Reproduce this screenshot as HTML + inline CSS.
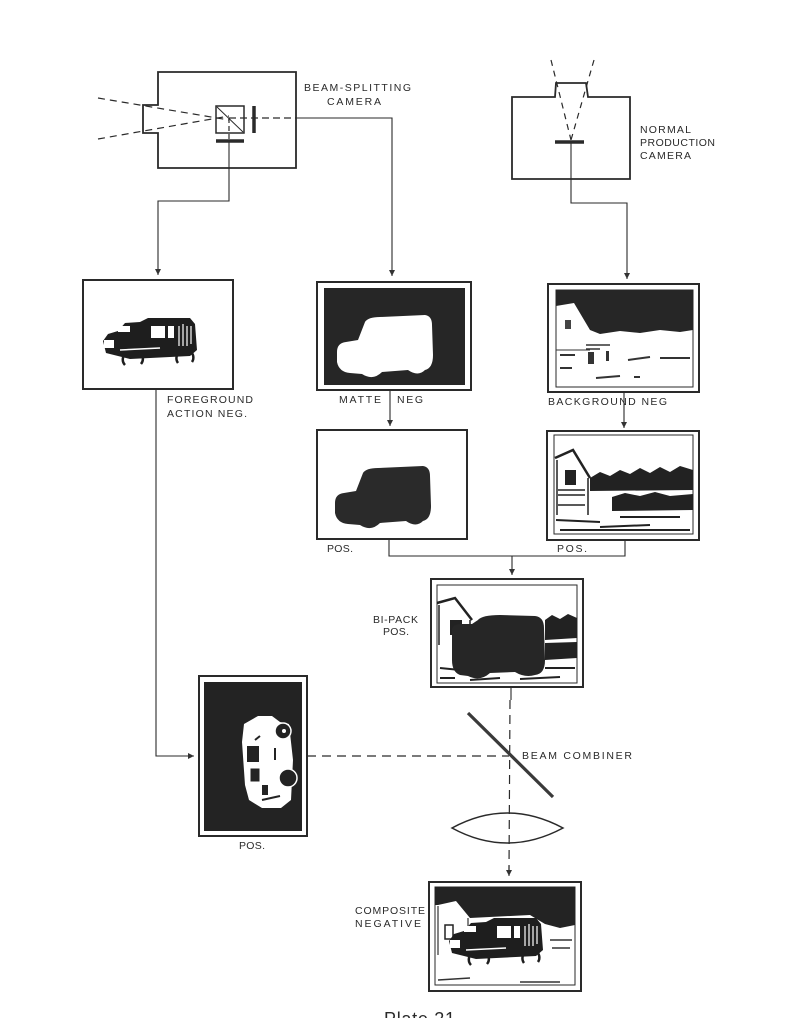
<!DOCTYPE html>
<html>
<head>
<meta charset="utf-8">
<style>
html,body{margin:0;padding:0;background:#fff;}
svg{display:block;}
text{font-family:"Liberation Sans",sans-serif;fill:#2a2a2a;}
</style>
</head>
<body>
<svg width="795" height="1018" viewBox="0 0 795 1018" xmlns="http://www.w3.org/2000/svg">
<defs>
  <marker id="ah" viewBox="0 0 10 10" refX="10" refY="5" markerWidth="6" markerHeight="7" orient="auto" markerUnits="userSpaceOnUse">
    <path d="M0,0 L10,5 L0,10 Z" fill="#333"/>
  </marker>
  <g id="jeep">
    <path d="M103,341 L108,334 L118,331 L125,323 L140,322 L148,318 L190,318 L195,324 L197,350 L190,356 L130,359 L118,356 L106,353 Z" fill="#1e1e1e"/>
    <rect x="151" y="326" width="14" height="12" fill="#fff"/>
    <rect x="168" y="326" width="6" height="12" fill="#fff"/>
    <rect x="118" y="326" width="12" height="6" fill="#fff"/>
    <rect x="104" y="340" width="10" height="8" fill="#fff"/>
    <path d="M179,326 L179,346 M183,324 L183,346 M187,326 L187,346 M191,326 L191,344" stroke="#fff" stroke-width="1.2"/>
    <path d="M120,350 L160,348" stroke="#fff" stroke-width="1.5"/>
    <path d="M125,365 A8,8 0 0 1 128,352 M139,352 A8,8 0 0 1 141,364" stroke="#1e1e1e" stroke-width="2.5" fill="none"/>
    <path d="M178,363 A8,8 0 0 1 181,351 M190,351 A8,8 0 0 1 192,362" stroke="#1e1e1e" stroke-width="2.5" fill="none"/>
  </g>
</defs>

<g stroke="#2a2a2a" fill="none">
  <!-- Beam-splitting camera -->
  <path d="M158,105 L158,72 L296,72 L296,168 L158,168 L158,133 L143,133 L143,105 Z" stroke-width="1.8"/>
  <rect x="216" y="106" width="28" height="27" stroke-width="1.5"/>
  <path d="M217,107 L243,132" stroke-width="1"/>
  <path d="M98,98 L229,120 M98,139 L229,116" stroke-width="1.2" stroke-dasharray="7,5"/>
  <path d="M229,118 L296,118" stroke-width="1.2" stroke-dasharray="7,4"/>
  <path d="M229,118 L229,141" stroke-width="1.2" stroke-dasharray="5,3"/>
  <line x1="254" y1="106" x2="254" y2="133" stroke-width="3.5"/>
  <line x1="216" y1="141" x2="244" y2="141" stroke-width="3.5"/>
  <path d="M296,118 L392,118 L392,276" stroke-width="1.1" marker-end="url(#ah)"/>
  <path d="M229,141 L229,201 L158,201 L158,275" stroke-width="1.1" marker-end="url(#ah)"/>

  <!-- Normal camera -->
  <path d="M512,97 L555,97 L556,83 L586,83 L588,97 L630,97 L630,179 L512,179 Z" stroke-width="1.8"/>
  <path d="M551,60 L571,140 M594,60 L571,140" stroke-width="1.2" stroke-dasharray="6,5"/>
  <line x1="555" y1="142" x2="584" y2="142" stroke-width="3.5"/>
  <path d="M571,142 L571,203 L627,203 L627,279" stroke-width="1.1" marker-end="url(#ah)"/>

  <!-- Foreground neg down to fg pos -->
  <path d="M156,389 L156,756 L194,756" stroke-width="1.1" marker-end="url(#ah)"/>
  <!-- matte neg -> matte pos -->
  <path d="M390,390 L390,426" stroke-width="1.1" marker-end="url(#ah)"/>
  <!-- bg neg -> bg pos -->
  <path d="M624,392 L624,428" stroke-width="1.1" marker-end="url(#ah)"/>
  <!-- merge -->
  <path d="M389,539 L389,556 L625,556 L625,540" stroke-width="1.1"/>
  <path d="M512,556 L512,575" stroke-width="1.1" marker-end="url(#ah)"/>
  <!-- bipack down -->
  <path d="M511,687 L511,700" stroke-width="1.1"/>
  <path d="M510,700 L509,870" stroke-width="1.2" stroke-dasharray="9,6"/>
  <path d="M509,866 L509,876" stroke-width="1.1" marker-end="url(#ah)"/>
  <!-- horizontal dashed from fg pos -->
  <path d="M307,756 L509,756" stroke-width="1.2" stroke-dasharray="9,6"/>
  <!-- beam combiner -->
  <line x1="468" y1="713" x2="553" y2="797" stroke-width="3.2" stroke="#3a3a3a"/>
  <!-- lens -->
  <path d="M452,828 Q507,798 563,828 Q507,858 452,828 Z" stroke-width="1.5"/>
</g>

<!-- Foreground action neg -->
<rect x="83" y="280" width="150" height="109" fill="#fff" stroke="#2a2a2a" stroke-width="2"/>
<use href="#jeep"/>

<!-- Matte neg -->
<rect x="317" y="282" width="154" height="108" fill="#fff" stroke="#2a2a2a" stroke-width="2"/>
<rect x="324" y="288" width="141" height="97" fill="#262626"/>
<path id="carsil" d="M337,352 Q337,343 346,342 L358,340 L365,322 Q368,317 380,317 L425,315 Q432,316 432,325 L433,355 Q433,368 425,370 Q418,377 408,370 L382,372 Q373,381 362,374 L350,373 Q339,372 337,362 Z" fill="#fff"/>

<!-- Matte pos -->
<rect x="317" y="430" width="150" height="109" fill="#fff" stroke="#2a2a2a" stroke-width="2"/>
<path d="M337,352 Q337,343 346,342 L358,340 L365,322 Q368,317 380,317 L425,315 Q432,316 432,325 L433,355 Q433,368 425,370 Q418,377 408,370 L382,372 Q373,381 362,374 L350,373 Q339,372 337,362 Z" fill="#2a2a2a" transform="translate(-2,151)"/>

<!-- Background neg -->
<rect x="548" y="284" width="151" height="108" fill="#fff" stroke="#2a2a2a" stroke-width="2"/>
<rect x="556" y="290" width="137" height="97" fill="#fff" stroke="#2a2a2a" stroke-width="1"/>
<path d="M556,290 L693,290 L693,330 L680,332 L660,330 L640,333 L620,331 L600,334 L590,330 L574,303 L556,306 Z" fill="#262626"/>
<rect x="565" y="320" width="6" height="9" fill="#444"/>
<path d="M586,345 L610,345 M586,349 L600,349" stroke="#333" stroke-width="1.5"/>
<rect x="588" y="352" width="6" height="12" fill="#333"/>
<rect x="606" y="351" width="3" height="10" fill="#333"/>
<path d="M628,360 L650,357 M596,378 L620,376 M634,377 L640,377 M560,355 L575,355 M560,368 L572,368 M660,358 L690,358" stroke="#333" stroke-width="2"/>
<path d="M556,350 L590,350" stroke="#333" stroke-width="1"/>

<!-- Background pos -->
<rect x="547" y="431" width="152" height="109" fill="#fff" stroke="#2a2a2a" stroke-width="2"/>
<rect x="554" y="435" width="139" height="99" fill="#fff" stroke="#2a2a2a" stroke-width="1"/>
<path d="M555,458 L573,450 L590,478" stroke="#222" stroke-width="2.5" fill="none"/>
<path d="M557,460 L557,515 M588,478 L588,515" stroke="#222" stroke-width="1.5"/>
<rect x="565" y="470" width="11" height="15" fill="#222"/>
<path d="M558,490 L585,490 M558,495 L585,495 M558,505 L585,505" stroke="#222" stroke-width="1.5"/>
<path d="M590,478 L600,472 L610,476 L620,470 L630,474 L640,468 L650,473 L660,467 L670,472 L680,466 L693,470 L693,490 L590,491 Z" fill="#222"/>
<path d="M612,497 L625,493 L640,496 L655,492 L670,496 L693,494 L693,510 L612,511 Z" fill="#222"/>
<path d="M556,520 L600,522 M600,527 L650,525 M560,530 L690,530 M620,517 L680,517" stroke="#222" stroke-width="2"/>

<!-- Bi-pack pos -->
<rect x="431" y="579" width="152" height="108" fill="#fff" stroke="#2a2a2a" stroke-width="2"/>
<rect x="437" y="585" width="140" height="98" fill="#fff" stroke="#2a2a2a" stroke-width="1"/>
<path d="M437,603 L455,598 L472,620" stroke="#222" stroke-width="2.5" fill="none"/>
<path d="M439,605 L439,645 M470,620 L470,640" stroke="#222" stroke-width="1.5"/>
<rect x="450" y="620" width="12" height="15" fill="#222"/>
<path d="M545,620 L552,615 L560,619 L568,614 L577,618 L577,638 L545,640 Z" fill="#222"/>
<path d="M545,643 L577,642 L577,658 L545,660 Z" fill="#222"/>
<path d="M452,630 Q452,624 462,624 L472,624 L478,620 Q482,615 500,615 L535,616 Q544,617 544,628 L545,660 Q545,674 535,675 Q525,678 515,672 L490,673 Q480,682 468,676 L460,675 Q452,672 452,660 Z" fill="#262626"/>
<path d="M440,668 L460,670 M470,680 L500,678 M520,679 L560,677 M440,678 L455,678 M545,668 L575,668" stroke="#222" stroke-width="2"/>

<!-- Foreground pos -->
<rect x="199" y="676" width="108" height="160" fill="#fff" stroke="#2a2a2a" stroke-width="2"/>
<rect x="204" y="682" width="98" height="149" fill="#232323"/>
<path d="M244,724 L258,716 L272,716 L280,722 L289,724 L293,760 L291,800 L281,808 L262,808 L249,800 L245,785 L242,742 Z" fill="#fff"/>
<circle cx="283" cy="731" r="8" fill="#232323" stroke="#fff" stroke-width="1.5"/>
<circle cx="284" cy="731" r="2" fill="#fff"/>
<circle cx="288" cy="778" r="9" fill="#232323" stroke="#fff" stroke-width="1.5"/>
<rect x="247" y="746" width="12" height="16" fill="#232323"/>
<rect x="250" y="768" width="10" height="14" fill="#232323" stroke="#fff" stroke-width="1"/>
<rect x="262" y="785" width="6" height="10" fill="#232323"/>
<path d="M255,740 L260,736 M275,748 L275,760 M262,800 L280,796" stroke="#232323" stroke-width="2"/>

<!-- Composite negative -->
<rect x="429" y="882" width="152" height="109" fill="#fff" stroke="#2a2a2a" stroke-width="2"/>
<rect x="435" y="887" width="140" height="98" fill="#fff" stroke="#2a2a2a" stroke-width="1"/>
<path d="M435,887 L575,887 L575,925 L560,928 L545,924 L530,915 L470,918 L456,901 L438,905 L435,905 Z" fill="#232323"/>
<path d="M438,906 L438,955 M468,918 L468,950" stroke="#333" stroke-width="1.2"/>
<rect x="445" y="925" width="8" height="14" fill="#fff" stroke="#222" stroke-width="1.5"/>
<use href="#jeep" transform="translate(346,600)"/>
<path d="M550,940 L572,940 M552,948 L570,948 M438,980 L470,978 M520,982 L560,982" stroke="#333" stroke-width="1.5"/>

<!-- Labels -->
<g font-size="10.5">
  <text x="304" y="91" textLength="107" lengthAdjust="spacing">BEAM-SPLITTING</text>
  <text x="327" y="105" textLength="54" lengthAdjust="spacing">CAMERA</text>
  <text x="640" y="133" textLength="51" lengthAdjust="spacing">NORMAL</text>
  <text x="640" y="146" textLength="75" lengthAdjust="spacing">PRODUCTION</text>
  <text x="640" y="159" textLength="51" lengthAdjust="spacing">CAMERA</text>
  <text x="167" y="403" textLength="86" lengthAdjust="spacing">FOREGROUND</text>
  <text x="167" y="417" textLength="80" lengthAdjust="spacing">ACTION NEG.</text>
  <text x="339" y="403" textLength="42" lengthAdjust="spacing">MATTE</text>
  <text x="397" y="403" textLength="26" lengthAdjust="spacing">NEG</text>
  <text x="548" y="405" textLength="119" lengthAdjust="spacing">BACKGROUND NEG</text>
  <text x="327" y="552" textLength="26" lengthAdjust="spacing">POS.</text>
  <text x="557" y="552" textLength="30" lengthAdjust="spacing">POS.</text>
  <text x="373" y="623" textLength="45" lengthAdjust="spacing">BI-PACK</text>
  <text x="383" y="635" textLength="26" lengthAdjust="spacing">POS.</text>
  <text x="522" y="759" textLength="110" lengthAdjust="spacing">BEAM COMBINER</text>
  <text x="239" y="849" textLength="26" lengthAdjust="spacing">POS.</text>
  <text x="355" y="914" textLength="70" lengthAdjust="spacing">COMPOSITE</text>
  <text x="355" y="927" textLength="66" lengthAdjust="spacing">NEGATIVE</text>
</g>
<text x="384" y="1025" font-size="18" textLength="71" lengthAdjust="spacing">Plate 21</text>
</svg>
</body>
</html>
